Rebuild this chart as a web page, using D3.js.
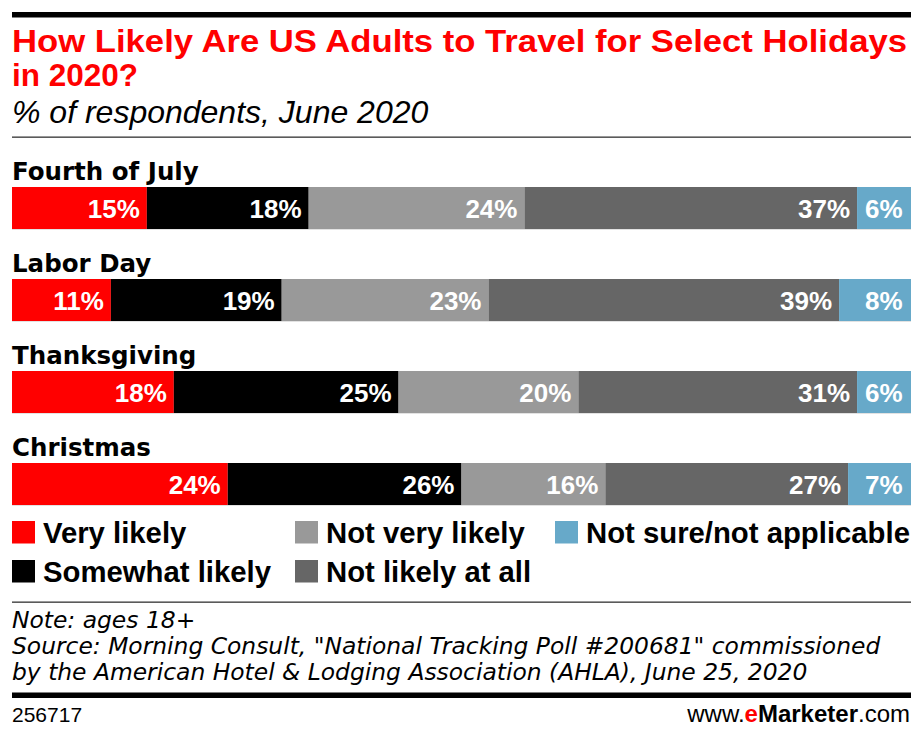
<!DOCTYPE html>
<html>
<head>
<meta charset="utf-8">
<script src="https://cdn.jsdelivr.net/npm/d3@7"></script>
<style>
  html, body { margin: 0; padding: 0; background: #fff; }
  svg { display: block; }
</style>
</head>
<body>
<svg id="chart" width="922" height="739"></svg>
<script>
// ---- Data ----
const categories = ["Fourth of July", "Labor Day", "Thanksgiving", "Christmas"];
const seriesNames = ["Very likely", "Somewhat likely", "Not very likely", "Not likely at all", "Not sure/not applicable"];
const veryLikely     = [15, 11, 18, 24];
const somewhatLikely = [18, 19, 25, 26];
const notVeryLikely  = [24, 23, 20, 16];
const notLikelyAtAll = [37, 39, 31, 27];
const notSure        = [6, 8, 6, 7];
const seriesColors = ["#ff0000", "#000000", "#999999", "#666666", "#67a9c9"];

const titleLines = ["How Likely Are US Adults to Travel for Select Holidays", "in 2020?"];
const subtitle = "% of respondents, June 2020";
const noteLines = [
  "Note: ages 18+",
  "Source: Morning Consult, \"National Tracking Poll #200681\" commissioned",
  "by the American Hotel & Lodging Association (AHLA), June 25, 2020"
];
const chartId = "256717";

// ---- Build table ----
const seriesValues = [veryLikely, somewhatLikely, notVeryLikely, notLikelyAtAll, notSure];
const table = categories.map((c, i) => {
  const row = { category: c };
  seriesNames.forEach((s, j) => row[s] = seriesValues[j][i]);
  return row;
});
const stacked = d3.stack().keys(seriesNames)(table);

const svg = d3.select("#chart");
const left = 12, right = 911;

// Top rule
svg.append("rect").attr("x", left).attr("y", 12).attr("width", right - left).attr("height", 5.5).attr("fill", "#000");

// Title (one text block, two lines)
const title = svg.append("text")
  .attr("x", left).attr("y", 52)
  .attr("font-family", "'Liberation Sans', Arial, sans-serif")
  .attr("font-weight", "bold")
  .attr("font-size", 31.5)
  .attr("fill", "#ff0000");
title.selectAll("tspan").data(titleLines).join("tspan")
  .attr("x", left)
  .attr("dy", (d, i) => i === 0 ? 0 : 34)
  .attr("textLength", (d, i) => i === 0 ? 895 : null)
  .attr("lengthAdjust", (d, i) => i === 0 ? "spacingAndGlyphs" : null)
  .text(d => d);

svg.append("text")
  .attr("x", left).attr("y", 123)
  .attr("font-family", "'Liberation Sans', Arial, sans-serif")
  .attr("font-style", "italic")
  .attr("font-size", 32)
  .attr("fill", "#000")
  .text(subtitle);
svg.append("rect").attr("x", left).attr("y", 136.5).attr("width", right - left).attr("height", 1.3).attr("fill", "#333");

// Scales
const x = d3.scaleLinear().domain([0, 100]).range([left, right]);
const y = d3.scaleBand().domain(categories).range([187, 505]).paddingInner(50 / 92).paddingOuter(0);
const color = d3.scaleOrdinal().domain(seriesNames).range(seriesColors);

// Category labels
svg.append("g").selectAll("text").data(categories).join("text")
  .attr("x", left).attr("y", d => y(d) - 7)
  .attr("font-family", "'DejaVu Sans', sans-serif")
  .attr("font-weight", "bold")
  .attr("font-size", 24.5)
  .attr("fill", "#000")
  .text(d => d);

// Bars
const layers = svg.append("g").selectAll("g").data(stacked).join("g")
  .attr("fill", d => color(d.key));
layers.selectAll("rect").data(d => d).join("rect")
  .attr("x", d => x(d[0]))
  .attr("y", d => y(d.data.category))
  .attr("width", d => x(d[1]) - x(d[0]))
  .attr("height", y.bandwidth());

// faint bottom edge under bars
svg.append("g").selectAll("rect").data(categories).join("rect")
  .attr("x", left).attr("y", d => y(d) + y.bandwidth())
  .attr("width", right - left).attr("height", 1)
  .attr("fill", "#e2e2e2");

// Value labels
const labels = svg.append("g");
stacked.forEach(layer => {
  labels.selectAll(null).data(layer).join("text")
    .attr("x", d => x(d[1]) - (layer.key === seriesNames[4] ? 8.5 : 7))
    .attr("y", d => y(d.data.category) + y.bandwidth() / 2 + 9.5)
    .attr("text-anchor", "end")
    .attr("font-family", "'Liberation Sans', Arial, sans-serif")
    .attr("font-weight", "bold")
    .attr("font-size", 26)
    .attr("fill", "#fff")
    .text(d => (d[1] - d[0]) + "%");
});

// Legend
const legendPos = [
  { x: 12, y: 521 }, { x: 12, y: 560 },
  { x: 295, y: 521 }, { x: 295, y: 560 },
  { x: 555, y: 521 }
];
const legend = svg.append("g").selectAll("g").data(seriesNames).join("g")
  .attr("transform", (d, i) => `translate(${legendPos[i].x},${legendPos[i].y})`);
legend.append("rect").attr("width", 23).attr("height", 22.5).attr("fill", d => color(d));
legend.append("text")
  .attr("x", 31).attr("y", 21.5)
  .attr("font-family", "'Liberation Sans', Arial, sans-serif")
  .attr("font-weight", "bold")
  .attr("font-size", 29.3)
  .attr("fill", "#000")
  .text(d => d);

// Footer
svg.append("rect").attr("x", left).attr("y", 601.5).attr("width", right - left).attr("height", 1.3).attr("fill", "#333");
const notes = svg.append("text")
  .attr("x", left).attr("y", 628)
  .attr("font-family", "'DejaVu Sans', sans-serif")
  .attr("font-style", "italic")
  .attr("font-size", 23.4)
  .attr("fill", "#000");
notes.selectAll("tspan").data(noteLines).join("tspan")
  .attr("x", left)
  .attr("dy", (d, i) => i === 0 ? 0 : 26)
  .text(d => d);
svg.append("rect").attr("x", left).attr("y", 692.5).attr("width", right - left).attr("height", 5.5).attr("fill", "#000");
svg.append("text")
  .attr("x", left).attr("y", 722)
  .attr("font-family", "'Liberation Sans', Arial, sans-serif")
  .attr("font-size", 21)
  .attr("fill", "#000")
  .text(chartId);
const brand = svg.append("text")
  .attr("x", 910).attr("y", 722)
  .attr("text-anchor", "end")
  .attr("font-family", "'Liberation Sans', Arial, sans-serif")
  .attr("font-size", 24)
  .attr("fill", "#000");
brand.append("tspan").text("www.");
brand.append("tspan").attr("font-weight", "bold").attr("fill", "#ff0000").text("e");
brand.append("tspan").attr("font-weight", "bold").text("Marketer");
brand.append("tspan").text(".com");
</script>
</body>
</html>
